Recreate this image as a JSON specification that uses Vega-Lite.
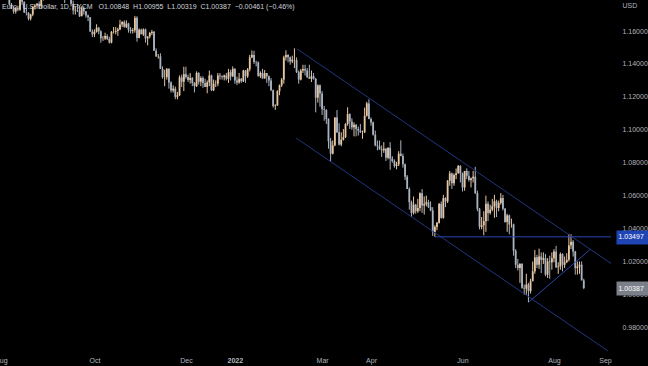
{
"$schema": "https://vega.github.io/schema/vega-lite/v6.json",
"width": 616, "height": 352,
"autosize": "none",
"padding": {"left": 0, "top": 0, "right": 32, "bottom": 14},
"background": "#000000",
"config": {"view": {"stroke": null}, "axis": {"grid": false, "domain": false, "labelFont": "Liberation Sans", "labelFontSize": 7, "labelColor": "#b2b5be"}},
"title": {"text": "Euro / U.S. Dollar, 1D, FXCM\u00a0\u00a0\u00a0O1.00848\u00a0\u00a0H1.00955\u00a0\u00a0L1.00319\u00a0\u00a0C1.00387\u00a0\u00a0\u22120.00461 (\u22120.46%)", "anchor": "start", "frame": "group", "orient": "top", "offset": -10, "font": "Liberation Sans", "fontSize": 7, "fontWeight": "normal", "color": "#d1d4dc", "dx": 2},
"datasets": {
"ohlc": [
{"i":0,"o":1.1868,"h":1.1893,"l":1.1860,"c":1.1870},
{"i":1,"o":1.1870,"h":1.1880,"l":1.1840,"c":1.1868},
{"i":2,"o":1.1868,"h":1.1900,"l":1.1832,"c":1.1835},
{"i":3,"o":1.1835,"h":1.1853,"l":1.1820,"c":1.1835},
{"i":4,"o":1.1835,"h":1.1838,"l":1.1755,"c":1.1762},
{"i":5,"o":1.1762,"h":1.1770,"l":1.1735,"c":1.1736},
{"i":6,"o":1.1736,"h":1.1750,"l":1.1705,"c":1.1718},
{"i":7,"o":1.1718,"h":1.1745,"l":1.1706,"c":1.1738},
{"i":8,"o":1.1738,"h":1.1754,"l":1.1720,"c":1.1730},
{"i":9,"o":1.1730,"h":1.1800,"l":1.1723,"c":1.1795},
{"i":10,"o":1.1795,"h":1.1800,"l":1.1760,"c":1.1778},
{"i":11,"o":1.1778,"h":1.1780,"l":1.1710,"c":1.1712},
{"i":12,"o":1.1712,"h":1.1740,"l":1.1695,"c":1.1710},
{"i":13,"o":1.1710,"h":1.1715,"l":1.1665,"c":1.1675},
{"i":14,"o":1.1675,"h":1.1705,"l":1.1664,"c":1.1700},
{"i":15,"o":1.1700,"h":1.1750,"l":1.1690,"c":1.1745},
{"i":16,"o":1.1745,"h":1.1765,"l":1.1730,"c":1.1755},
{"i":17,"o":1.1755,"h":1.1770,"l":1.1735,"c":1.1765},
{"i":18,"o":1.1765,"h":1.1780,"l":1.1735,"c":1.1750},
{"i":19,"o":1.1750,"h":1.1800,"l":1.1735,"c":1.1795},
{"i":20,"o":1.1795,"h":1.1810,"l":1.1785,"c":1.1795},
{"i":21,"o":1.1795,"h":1.1830,"l":1.1790,"c":1.1808},
{"i":22,"o":1.1808,"h":1.1857,"l":1.1800,"c":1.1840},
{"i":23,"o":1.1840,"h":1.1872,"l":1.1835,"c":1.1875},
{"i":24,"o":1.1875,"h":1.1909,"l":1.1860,"c":1.1880},
{"i":25,"o":1.1880,"h":1.1885,"l":1.1860,"c":1.1868},
{"i":26,"o":1.1868,"h":1.1870,"l":1.1835,"c":1.1840},
{"i":27,"o":1.1840,"h":1.1844,"l":1.1800,"c":1.1818},
{"i":28,"o":1.1818,"h":1.1845,"l":1.1800,"c":1.1825},
{"i":29,"o":1.1825,"h":1.1845,"l":1.1805,"c":1.1812},
{"i":30,"o":1.1812,"h":1.1815,"l":1.1770,"c":1.1805},
{"i":31,"o":1.1805,"h":1.1846,"l":1.1790,"c":1.1805},
{"i":32,"o":1.1805,"h":1.1830,"l":1.1800,"c":1.1820},
{"i":33,"o":1.1820,"h":1.1828,"l":1.1750,"c":1.1765},
{"i":34,"o":1.1765,"h":1.1785,"l":1.1700,"c":1.1725},
{"i":35,"o":1.1725,"h":1.1750,"l":1.1700,"c":1.1728},
{"i":36,"o":1.1728,"h":1.1765,"l":1.1715,"c":1.1725},
{"i":37,"o":1.1725,"h":1.1745,"l":1.1685,"c":1.1690},
{"i":38,"o":1.1690,"h":1.1750,"l":1.1690,"c":1.1738},
{"i":39,"o":1.1738,"h":1.1750,"l":1.1700,"c":1.1720},
{"i":40,"o":1.1720,"h":1.1720,"l":1.1680,"c":1.1695},
{"i":41,"o":1.1695,"h":1.1700,"l":1.1660,"c":1.1683},
{"i":42,"o":1.1683,"h":1.1685,"l":1.1595,"c":1.1597},
{"i":43,"o":1.1597,"h":1.1610,"l":1.1563,"c":1.1580},
{"i":44,"o":1.1580,"h":1.1610,"l":1.1563,"c":1.1595},
{"i":45,"o":1.1595,"h":1.1641,"l":1.1590,"c":1.1620},
{"i":46,"o":1.1620,"h":1.1625,"l":1.1580,"c":1.1598},
{"i":47,"o":1.1598,"h":1.1605,"l":1.1529,"c":1.1555},
{"i":48,"o":1.1555,"h":1.1570,"l":1.1540,"c":1.1555},
{"i":49,"o":1.1555,"h":1.1590,"l":1.1545,"c":1.1570},
{"i":50,"o":1.1570,"h":1.1580,"l":1.1545,"c":1.1552},
{"i":51,"o":1.1552,"h":1.1565,"l":1.1524,"c":1.1530},
{"i":52,"o":1.1530,"h":1.1600,"l":1.1525,"c":1.1595},
{"i":53,"o":1.1595,"h":1.1624,"l":1.1585,"c":1.1595},
{"i":54,"o":1.1595,"h":1.1624,"l":1.1580,"c":1.1600},
{"i":55,"o":1.1600,"h":1.1620,"l":1.1571,"c":1.1610},
{"i":56,"o":1.1610,"h":1.1668,"l":1.1605,"c":1.1640},
{"i":57,"o":1.1640,"h":1.1660,"l":1.1625,"c":1.1655},
{"i":58,"o":1.1655,"h":1.1665,"l":1.1620,"c":1.1625},
{"i":59,"o":1.1625,"h":1.1665,"l":1.1618,"c":1.1645},
{"i":60,"o":1.1645,"h":1.1650,"l":1.1590,"c":1.1608},
{"i":61,"o":1.1608,"h":1.1625,"l":1.1585,"c":1.1600},
{"i":62,"o":1.1600,"h":1.1618,"l":1.1585,"c":1.1605},
{"i":63,"o":1.1605,"h":1.1692,"l":1.1590,"c":1.1680},
{"i":64,"o":1.1680,"h":1.1690,"l":1.1535,"c":1.1558},
{"i":65,"o":1.1558,"h":1.1616,"l":1.1556,"c":1.1608},
{"i":66,"o":1.1608,"h":1.1615,"l":1.1580,"c":1.1580},
{"i":67,"o":1.1580,"h":1.1616,"l":1.1570,"c":1.1610},
{"i":68,"o":1.1610,"h":1.1615,"l":1.1530,"c":1.1555},
{"i":69,"o":1.1555,"h":1.1568,"l":1.1513,"c":1.1567},
{"i":70,"o":1.1567,"h":1.1595,"l":1.1555,"c":1.1588},
{"i":71,"o":1.1588,"h":1.1607,"l":1.1575,"c":1.1595},
{"i":72,"o":1.1595,"h":1.1600,"l":1.1480,"c":1.1480},
{"i":73,"o":1.1480,"h":1.1495,"l":1.1444,"c":1.1445},
{"i":74,"o":1.1445,"h":1.1460,"l":1.1432,"c":1.1446},
{"i":75,"o":1.1446,"h":1.1465,"l":1.1370,"c":1.1370},
{"i":76,"o":1.1370,"h":1.1385,"l":1.1310,"c":1.1320},
{"i":77,"o":1.1320,"h":1.1365,"l":1.1265,"c":1.1320},
{"i":78,"o":1.1320,"h":1.1375,"l":1.1305,"c":1.1370},
{"i":79,"o":1.1370,"h":1.1375,"l":1.1250,"c":1.1287},
{"i":80,"o":1.1287,"h":1.1295,"l":1.1226,"c":1.1238},
{"i":81,"o":1.1238,"h":1.1270,"l":1.1226,"c":1.1250},
{"i":82,"o":1.1250,"h":1.1263,"l":1.1186,"c":1.1200},
{"i":83,"o":1.1200,"h":1.1230,"l":1.1185,"c":1.1210},
{"i":84,"o":1.1210,"h":1.1330,"l":1.1205,"c":1.1318},
{"i":85,"o":1.1318,"h":1.1335,"l":1.1260,"c":1.1292},
{"i":86,"o":1.1292,"h":1.1383,"l":1.1235,"c":1.1338},
{"i":87,"o":1.1338,"h":1.1383,"l":1.1310,"c":1.1320},
{"i":88,"o":1.1320,"h":1.1335,"l":1.1290,"c":1.1303},
{"i":89,"o":1.1303,"h":1.1345,"l":1.1280,"c":1.1315},
{"i":90,"o":1.1315,"h":1.1320,"l":1.1265,"c":1.1285},
{"i":91,"o":1.1285,"h":1.1290,"l":1.1227,"c":1.1265},
{"i":92,"o":1.1265,"h":1.1355,"l":1.1260,"c":1.1345},
{"i":93,"o":1.1345,"h":1.1350,"l":1.1275,"c":1.1292},
{"i":94,"o":1.1292,"h":1.1325,"l":1.1265,"c":1.1315},
{"i":95,"o":1.1315,"h":1.1325,"l":1.1255,"c":1.1285},
{"i":96,"o":1.1285,"h":1.1310,"l":1.1260,"c":1.1260},
{"i":97,"o":1.1260,"h":1.1300,"l":1.1222,"c":1.1288},
{"i":98,"o":1.1288,"h":1.1360,"l":1.1265,"c":1.1330},
{"i":99,"o":1.1330,"h":1.1335,"l":1.1235,"c":1.1240},
{"i":100,"o":1.1240,"h":1.1305,"l":1.1235,"c":1.1280},
{"i":101,"o":1.1280,"h":1.1300,"l":1.1260,"c":1.1280},
{"i":102,"o":1.1280,"h":1.1345,"l":1.1265,"c":1.1330},
{"i":103,"o":1.1330,"h":1.1345,"l":1.1305,"c":1.1325},
{"i":104,"o":1.1325,"h":1.1330,"l":1.1305,"c":1.1320},
{"i":105,"o":1.1320,"h":1.1335,"l":1.1300,"c":1.1330},
{"i":106,"o":1.1330,"h":1.1345,"l":1.1300,"c":1.1310},
{"i":107,"o":1.1310,"h":1.1370,"l":1.1285,"c":1.1350},
{"i":108,"o":1.1350,"h":1.1365,"l":1.1300,"c":1.1325},
{"i":109,"o":1.1325,"h":1.1385,"l":1.1320,"c":1.1370},
{"i":110,"o":1.1370,"h":1.1375,"l":1.1280,"c":1.1300},
{"i":111,"o":1.1300,"h":1.1322,"l":1.1272,"c":1.1287},
{"i":112,"o":1.1287,"h":1.1345,"l":1.1280,"c":1.1310},
{"i":113,"o":1.1310,"h":1.1315,"l":1.1285,"c":1.1295},
{"i":114,"o":1.1295,"h":1.1365,"l":1.1290,"c":1.1360},
{"i":115,"o":1.1360,"h":1.1363,"l":1.1285,"c":1.1325},
{"i":116,"o":1.1325,"h":1.1375,"l":1.1315,"c":1.1368},
{"i":117,"o":1.1368,"h":1.1455,"l":1.1355,"c":1.1440},
{"i":118,"o":1.1440,"h":1.1482,"l":1.1435,"c":1.1455},
{"i":119,"o":1.1455,"h":1.1480,"l":1.1400,"c":1.1412},
{"i":120,"o":1.1412,"h":1.1420,"l":1.1385,"c":1.1410},
{"i":121,"o":1.1410,"h":1.1415,"l":1.1325,"c":1.1325},
{"i":122,"o":1.1325,"h":1.1355,"l":1.1315,"c":1.1345},
{"i":123,"o":1.1345,"h":1.1370,"l":1.1310,"c":1.1312},
{"i":124,"o":1.1312,"h":1.1363,"l":1.1310,"c":1.1345},
{"i":125,"o":1.1345,"h":1.1345,"l":1.1285,"c":1.1325},
{"i":126,"o":1.1325,"h":1.1330,"l":1.1265,"c":1.1300},
{"i":127,"o":1.1300,"h":1.1315,"l":1.1235,"c":1.1240},
{"i":128,"o":1.1240,"h":1.1245,"l":1.1135,"c":1.1145},
{"i":129,"o":1.1145,"h":1.1155,"l":1.1121,"c":1.1148},
{"i":130,"o":1.1148,"h":1.1240,"l":1.1145,"c":1.1235},
{"i":131,"o":1.1235,"h":1.1275,"l":1.1210,"c":1.1270},
{"i":132,"o":1.1270,"h":1.1315,"l":1.1260,"c":1.1305},
{"i":133,"o":1.1305,"h":1.1450,"l":1.1280,"c":1.1440},
{"i":134,"o":1.1440,"h":1.1483,"l":1.1420,"c":1.1455},
{"i":135,"o":1.1455,"h":1.1460,"l":1.1410,"c":1.1440},
{"i":136,"o":1.1440,"h":1.1445,"l":1.1395,"c":1.1415},
{"i":137,"o":1.1415,"h":1.1450,"l":1.1405,"c":1.1425},
{"i":138,"o":1.1425,"h":1.1495,"l":1.1375,"c":1.1425},
{"i":139,"o":1.1425,"h":1.1440,"l":1.1345,"c":1.1350},
{"i":140,"o":1.1350,"h":1.1360,"l":1.1280,"c":1.1305},
{"i":141,"o":1.1305,"h":1.1370,"l":1.1300,"c":1.1360},
{"i":142,"o":1.1360,"h":1.1395,"l":1.1345,"c":1.1370},
{"i":143,"o":1.1370,"h":1.1395,"l":1.1330,"c":1.1360},
{"i":144,"o":1.1360,"h":1.1375,"l":1.1315,"c":1.1320},
{"i":145,"o":1.1320,"h":1.1395,"l":1.1310,"c":1.1310},
{"i":146,"o":1.1310,"h":1.1360,"l":1.1290,"c":1.1325},
{"i":147,"o":1.1325,"h":1.1345,"l":1.1305,"c":1.1310},
{"i":148,"o":1.1310,"h":1.1315,"l":1.1106,"c":1.1195},
{"i":149,"o":1.1195,"h":1.1275,"l":1.1165,"c":1.1270},
{"i":150,"o":1.1270,"h":1.1275,"l":1.1140,"c":1.1220},
{"i":151,"o":1.1220,"h":1.1235,"l":1.1090,"c":1.1125},
{"i":152,"o":1.1125,"h":1.1145,"l":1.1055,"c":1.1120},
{"i":153,"o":1.1120,"h":1.1125,"l":1.1035,"c":1.1065},
{"i":154,"o":1.1065,"h":1.1070,"l":1.0885,"c":1.0930},
{"i":155,"o":1.0930,"h":1.0950,"l":1.0806,"c":1.0855},
{"i":156,"o":1.0855,"h":1.0935,"l":1.0850,"c":1.0905},
{"i":157,"o":1.0905,"h":1.1075,"l":1.0900,"c":1.1075},
{"i":158,"o":1.1075,"h":1.1120,"l":1.0980,"c":1.0985},
{"i":159,"o":1.0985,"h":1.1040,"l":1.0905,"c":1.0910},
{"i":160,"o":1.0910,"h":1.0985,"l":1.0900,"c":1.0940},
{"i":161,"o":1.0940,"h":1.1005,"l":1.0935,"c":1.0955},
{"i":162,"o":1.0955,"h":1.1040,"l":1.0950,"c":1.1035},
{"i":163,"o":1.1035,"h":1.1137,"l":1.1025,"c":1.1095},
{"i":164,"o":1.1095,"h":1.1100,"l":1.1005,"c":1.1050},
{"i":165,"o":1.1050,"h":1.1070,"l":1.1000,"c":1.1015},
{"i":166,"o":1.1015,"h":1.1045,"l":1.0960,"c":1.1030},
{"i":167,"o":1.1030,"h":1.1035,"l":1.0960,"c":1.1005},
{"i":168,"o":1.1005,"h":1.1020,"l":1.0965,"c":1.0995},
{"i":169,"o":1.0995,"h":1.1035,"l":1.0980,"c":1.0985},
{"i":170,"o":1.0985,"h":1.0995,"l":1.0945,"c":1.0985},
{"i":171,"o":1.0985,"h":1.1135,"l":1.0980,"c":1.1085},
{"i":172,"o":1.1085,"h":1.1170,"l":1.1080,"c":1.1160},
{"i":173,"o":1.1160,"h":1.1185,"l":1.1065,"c":1.1065},
{"i":174,"o":1.1065,"h":1.1075,"l":1.1025,"c":1.1045},
{"i":175,"o":1.1045,"h":1.1050,"l":1.0965,"c":1.0970},
{"i":176,"o":1.0970,"h":1.0995,"l":1.0900,"c":1.0905},
{"i":177,"o":1.0905,"h":1.0935,"l":1.0875,"c":1.0900},
{"i":178,"o":1.0900,"h":1.0935,"l":1.0880,"c":1.0880},
{"i":179,"o":1.0880,"h":1.0905,"l":1.0835,"c":1.0875},
{"i":180,"o":1.0875,"h":1.0925,"l":1.0860,"c":1.0885},
{"i":181,"o":1.0885,"h":1.0890,"l":1.0810,"c":1.0830},
{"i":182,"o":1.0830,"h":1.0895,"l":1.0820,"c":1.0890},
{"i":183,"o":1.0890,"h":1.0925,"l":1.0757,"c":1.0825},
{"i":184,"o":1.0825,"h":1.0840,"l":1.0800,"c":1.0810},
{"i":185,"o":1.0810,"h":1.0820,"l":1.0770,"c":1.0780},
{"i":186,"o":1.0780,"h":1.0805,"l":1.0760,"c":1.0790},
{"i":187,"o":1.0790,"h":1.0870,"l":1.0780,"c":1.0855},
{"i":188,"o":1.0855,"h":1.0936,"l":1.0840,"c":1.0840},
{"i":189,"o":1.0840,"h":1.0855,"l":1.0770,"c":1.0790},
{"i":190,"o":1.0790,"h":1.0795,"l":1.0695,"c":1.0715},
{"i":191,"o":1.0715,"h":1.0725,"l":1.0640,"c":1.0640},
{"i":192,"o":1.0640,"h":1.0650,"l":1.0515,"c":1.0560},
{"i":193,"o":1.0560,"h":1.0570,"l":1.0470,"c":1.0495},
{"i":194,"o":1.0495,"h":1.0595,"l":1.0485,"c":1.0545},
{"i":195,"o":1.0545,"h":1.0550,"l":1.0490,"c":1.0505},
{"i":196,"o":1.0505,"h":1.0580,"l":1.0495,"c":1.0525},
{"i":197,"o":1.0525,"h":1.0620,"l":1.0505,"c":1.0615},
{"i":198,"o":1.0615,"h":1.0640,"l":1.0495,"c":1.0540},
{"i":199,"o":1.0540,"h":1.0595,"l":1.0485,"c":1.0550},
{"i":200,"o":1.0550,"h":1.0600,"l":1.0535,"c":1.0560},
{"i":201,"o":1.0560,"h":1.0575,"l":1.0525,"c":1.0530},
{"i":202,"o":1.0530,"h":1.0565,"l":1.0505,"c":1.0510},
{"i":203,"o":1.0510,"h":1.0530,"l":1.0355,"c":1.0380},
{"i":204,"o":1.0380,"h":1.0420,"l":1.0350,"c":1.0410},
{"i":205,"o":1.0410,"h":1.0440,"l":1.0390,"c":1.0435},
{"i":206,"o":1.0435,"h":1.0555,"l":1.0430,"c":1.0550},
{"i":207,"o":1.0550,"h":1.0565,"l":1.0460,"c":1.0465},
{"i":208,"o":1.0465,"h":1.0605,"l":1.0460,"c":1.0585},
{"i":209,"o":1.0585,"h":1.0590,"l":1.0530,"c":1.0565},
{"i":210,"o":1.0565,"h":1.0695,"l":1.0555,"c":1.0690},
{"i":211,"o":1.0690,"h":1.0750,"l":1.0660,"c":1.0735},
{"i":212,"o":1.0735,"h":1.0740,"l":1.0640,"c":1.0675},
{"i":213,"o":1.0675,"h":1.0735,"l":1.0660,"c":1.0725},
{"i":214,"o":1.0725,"h":1.0765,"l":1.0700,"c":1.0735},
{"i":215,"o":1.0735,"h":1.0786,"l":1.0735,"c":1.0780},
{"i":216,"o":1.0780,"h":1.0785,"l":1.0680,"c":1.0735},
{"i":217,"o":1.0735,"h":1.0740,"l":1.0625,"c":1.0650},
{"i":218,"o":1.0650,"h":1.0750,"l":1.0630,"c":1.0750},
{"i":219,"o":1.0750,"h":1.0765,"l":1.0700,"c":1.0720},
{"i":220,"o":1.0720,"h":1.0750,"l":1.0685,"c":1.0695},
{"i":221,"o":1.0695,"h":1.0710,"l":1.0650,"c":1.0705},
{"i":222,"o":1.0705,"h":1.0750,"l":1.0680,"c":1.0715},
{"i":223,"o":1.0715,"h":1.0775,"l":1.0610,"c":1.0615},
{"i":224,"o":1.0615,"h":1.0630,"l":1.0505,"c":1.0520},
{"i":225,"o":1.0520,"h":1.0525,"l":1.0395,"c":1.0410},
{"i":226,"o":1.0410,"h":1.0470,"l":1.0395,"c":1.0420},
{"i":227,"o":1.0420,"h":1.0505,"l":1.0359,"c":1.0445},
{"i":228,"o":1.0445,"h":1.0600,"l":1.0380,"c":1.0550},
{"i":229,"o":1.0550,"h":1.0565,"l":1.0445,"c":1.0495},
{"i":230,"o":1.0495,"h":1.0545,"l":1.0485,"c":1.0515},
{"i":231,"o":1.0515,"h":1.0580,"l":1.0505,"c":1.0535},
{"i":232,"o":1.0535,"h":1.0605,"l":1.0465,"c":1.0565},
{"i":233,"o":1.0565,"h":1.0575,"l":1.0470,"c":1.0525},
{"i":234,"o":1.0525,"h":1.0570,"l":1.0505,"c":1.0555},
{"i":235,"o":1.0555,"h":1.0615,"l":1.0545,"c":1.0585},
{"i":236,"o":1.0585,"h":1.0605,"l":1.0510,"c":1.0520},
{"i":237,"o":1.0520,"h":1.0525,"l":1.0435,"c":1.0440},
{"i":238,"o":1.0440,"h":1.0490,"l":1.0380,"c":1.0480},
{"i":239,"o":1.0480,"h":1.0485,"l":1.0365,"c":1.0425},
{"i":240,"o":1.0425,"h":1.0460,"l":1.0405,"c":1.0425},
{"i":241,"o":1.0425,"h":1.0430,"l":1.0235,"c":1.0265},
{"i":242,"o":1.0265,"h":1.0275,"l":1.0160,"c":1.0180},
{"i":243,"o":1.0180,"h":1.0215,"l":1.0145,"c":1.0160},
{"i":244,"o":1.0160,"h":1.0190,"l":1.0070,"c":1.0185},
{"i":245,"o":1.0185,"h":1.0190,"l":1.0035,"c":1.0040},
{"i":246,"o":1.0040,"h":1.0060,"l":0.9998,"c":1.0035},
{"i":247,"o":1.0035,"h":1.0125,"l":0.9998,"c":1.0060},
{"i":248,"o":1.0060,"h":1.0070,"l":0.9952,"c":1.0020},
{"i":249,"o":1.0020,"h":1.0095,"l":1.0005,"c":1.0080},
{"i":250,"o":1.0080,"h":1.0200,"l":1.0080,"c":1.0140},
{"i":251,"o":1.0140,"h":1.0270,"l":1.0125,"c":1.0225},
{"i":252,"o":1.0225,"h":1.0240,"l":1.0160,"c":1.0180},
{"i":253,"o":1.0180,"h":1.0278,"l":1.0155,"c":1.0230},
{"i":254,"o":1.0230,"h":1.0255,"l":1.0130,"c":1.0210},
{"i":255,"o":1.0210,"h":1.0255,"l":1.0185,"c":1.0220},
{"i":256,"o":1.0220,"h":1.0245,"l":1.0110,"c":1.0120},
{"i":257,"o":1.0120,"h":1.0220,"l":1.0100,"c":1.0200},
{"i":258,"o":1.0200,"h":1.0235,"l":1.0095,"c":1.0195},
{"i":259,"o":1.0195,"h":1.0255,"l":1.0150,"c":1.0220},
{"i":260,"o":1.0220,"h":1.0275,"l":1.0195,"c":1.0260},
{"i":261,"o":1.0260,"h":1.0295,"l":1.0160,"c":1.0165},
{"i":262,"o":1.0165,"h":1.0195,"l":1.0125,"c":1.0170},
{"i":263,"o":1.0170,"h":1.0255,"l":1.0150,"c":1.0245},
{"i":264,"o":1.0245,"h":1.0250,"l":1.0140,"c":1.0180},
{"i":265,"o":1.0180,"h":1.0230,"l":1.0160,"c":1.0195},
{"i":266,"o":1.0195,"h":1.0250,"l":1.0190,"c":1.0210},
{"i":267,"o":1.0210,"h":1.0368,"l":1.0200,"c":1.0298},
{"i":268,"o":1.0298,"h":1.0365,"l":1.0275,"c":1.0320},
{"i":269,"o":1.0320,"h":1.0330,"l":1.0230,"c":1.0260},
{"i":270,"o":1.0260,"h":1.0265,"l":1.0120,"c":1.0160},
{"i":271,"o":1.0160,"h":1.0200,"l":1.0120,"c":1.0170},
{"i":272,"o":1.0170,"h":1.0200,"l":1.0125,"c":1.0180},
{"i":273,"o":1.0180,"h":1.0200,"l":1.0085,"c":1.0085},
{"i":274,"o":1.00848,"h":1.00955,"l":1.00319,"c":1.00387}
],
"lines": [
{"k":"ch","i":139.3,"p":1.1491,"i2":286.8,"p2":1.0188},
{"k":"ch","i":138.8,"p":1.0950,"i2":285.4,"p2":0.9656},
{"k":"hl","i":204,"p":1.03497,"i2":286.8,"p2":1.03497},
{"k":"tr","i":248.3,"p":0.9955,"i2":277.1,"p2":1.0274}
]
},
"encoding": {
  "x": {"field": "i", "type": "quantitative", "scale": {"domain": [0, 286.8], "range": [-4.15, 616], "nice": false, "zero": false},
        "axis": {"values": [0, 44, 87, 110, 151, 174, 217, 260, 284], "labelExpr": "datum.value == 0 ? 'Aug' : datum.value == 44 ? 'Oct' : datum.value == 87 ? 'Dec' : datum.value == 110 ? '2022' : datum.value == 151 ? 'Mar' : datum.value == 174 ? 'Apr' : datum.value == 217 ? 'Jun' : datum.value == 260 ? 'Aug' : 'Sep'", "ticks": false, "domain": false, "labelPadding": 4, "title": null, "labelOverlap": false, "labelFlush": false, "labelBound": false, "labelFontWeight": {"condition": {"test": "datum.value == 110", "value": "bold"}, "value": "normal"}}}
},
"layer": [
{"data": {"name": "ohlc"},
 "mark": {"type": "rule", "clip": true, "strokeWidth": 1},
 "encoding": {
  "y": {"field": "l", "type": "quantitative", "scale": {"domain": [0.965, 1.17885], "nice": false, "zero": false},
        "axis": {"orient": "right", "values": [0.98, 1.0, 1.02, 1.04, 1.06, 1.08, 1.1, 1.12, 1.14, 1.16], "format": ".5f", "ticks": false, "labelPadding": 6, "labelOverlap": false, "zindex": 1, "title": "USD", "titleAngle": 0, "titleAlign": "left", "titleBaseline": "top", "titleX": 6, "titleY": 1, "titleFontSize": 7, "titleColor": "#b2b5be", "titleFont": "Liberation Sans", "titleFontWeight": "normal"}},
  "y2": {"field": "h"},
  "color": {"condition": {"test": "datum.c >= datum.o", "value": "#e8c6a2"}, "value": "#aab3bf"}
 }},
{"data": {"name": "ohlc"},
 "mark": {"type": "bar", "clip": true, "size": 1.8},
 "encoding": {
  "y": {"field": "o", "type": "quantitative", "axis": null},
  "y2": {"field": "c"},
  "color": {"condition": {"test": "datum.c >= datum.o", "value": "#e8c6a2"}, "value": "#aab3bf"}
 }},
{"data": {"name": "lines"},
 "mark": {"type": "rule", "clip": true, "strokeWidth": 1},
 "encoding": {
  "x2": {"field": "i2"},
  "y": {"field": "p", "type": "quantitative",
        "axis": {"orient": "right", "values": [1.03497, 1.00387], "format": ".5f", "ticks": true, "tickSize": 32, "tickWidth": 14, "tickColor": {"condition": {"test": "datum.value > 1.02", "value": "#1f45b5"}, "value": "#7b7f8a"}, "labelColor": "#ffffff", "labelPadding": -30, "labelOverlap": false, "labelBound": false, "zindex": 2, "title": null}},
  "y2": {"field": "p2"},
  "color": {"field": "k", "type": "nominal", "scale": {"domain": ["ch", "hl", "tr"], "range": ["#22357f", "#2746b3", "#2a45a8"]}, "legend": null}
 }}
],
"resolve": {"axis": {"y": "independent"}}
}
